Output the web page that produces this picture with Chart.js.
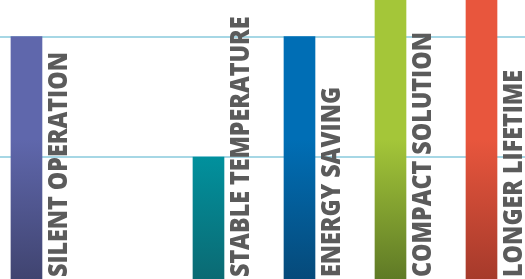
<!DOCTYPE html>
<html>
<head>
<meta charset="utf-8">
<script src="https://cdn.jsdelivr.net/npm/chart.js@4.4.1/dist/chart.umd.min.js"></script>
<style>
  html, body { margin: 0; padding: 0; background: #fff; }
  #wrap { width: 525px; height: 279px; }
</style>
</head>
<body>
<div id="wrap"><canvas id="chart"></canvas></div>
<script>
// data
var labels = ["SILENT OPERATION", "", "STABLE TEMPERATURE", "ENERGY SAVING", "COMPACT SOLUTION", "LONGER LIFETIME"];
var positions = [0, 1, 2, 3, 4, 5];
var values = [2, null, 1, 2, 2.5, 2.5];
var topColors = ["#5f67ac", null, "#0096a3", "#006eb5", "#a4c639", "#e8563d"];
var bottomColors = ["#404470", null, "#0b6a73", "#064a7a", "#5f7a26", "#a63a2b"];
var gridValues = [1, 2];

var yMin = -0.012, yMax = 2.303;

function barGradient(context) {
  var chart = context.chart;
  var area = chart.chartArea;
  var i = context.dataIndex;
  if (!area || topColors[i] == null) return "#000";
  var g = chart.ctx.createLinearGradient(0, area.top, 0, area.bottom);
  g.addColorStop(0, topColors[i]);
  g.addColorStop(0.5, topColors[i]);
  g.addColorStop(1, bottomColors[i]);
  return g;
}

var sideLabels = {
  id: "sideLabels",
  afterDatasetsDraw: function (chart) {
    var ctx = chart.ctx;
    var meta = chart.getDatasetMeta(0);
    var bottom = chart.chartArea.bottom;
    ctx.save();
    ctx.fillStyle = "#5b5b5b";
    ctx.font = '800 27px "Open Sans"';
    ctx.textAlign = "left";
    ctx.textBaseline = "alphabetic";
    meta.data.forEach(function (bar, i) {
      if (!labels[i]) return;
      var right = bar.x + bar.width / 2;
      ctx.save();
      ctx.translate(right + 25, bottom - 2);
      ctx.rotate(-Math.PI / 2);
      ctx.scale(0.86, 1);
      ctx.fillText(labels[i], 0, 0);
      ctx.restore();
    });
    ctx.restore();
  }
};

new Chart(document.getElementById("chart").getContext("2d"), {
  type: "bar",
  data: {
    labels: labels,
    datasets: [
      {
        data: positions.map(function (p, i) { return { x: p, y: values[i] }; }),
        backgroundColor: barGradient,
        borderWidth: 0,
        barThickness: 31,
        base: yMin
      }
    ]
  },
  options: {
    responsive: true,
    maintainAspectRatio: false,
    animation: false,
    layout: { padding: 0 },
    plugins: { legend: { display: false }, tooltip: { enabled: false } },
    scales: {
      x: {
        type: "linear",
        offset: false,
        min: -0.291,
        max: 5.478,
        display: false
      },
      y: {
        min: yMin,
        max: yMax,
        z: 1,
        border: { display: false },
        ticks: { display: false },
        afterBuildTicks: function (axis) {
          axis.ticks = gridValues.map(function (v) { return { value: v }; });
        },
        grid: {
          color: "rgba(150,208,225,0.85)",
          lineWidth: 2,
          drawTicks: false
        }
      }
    }
  },
  plugins: [sideLabels]
});
</script>
</body>
</html>
